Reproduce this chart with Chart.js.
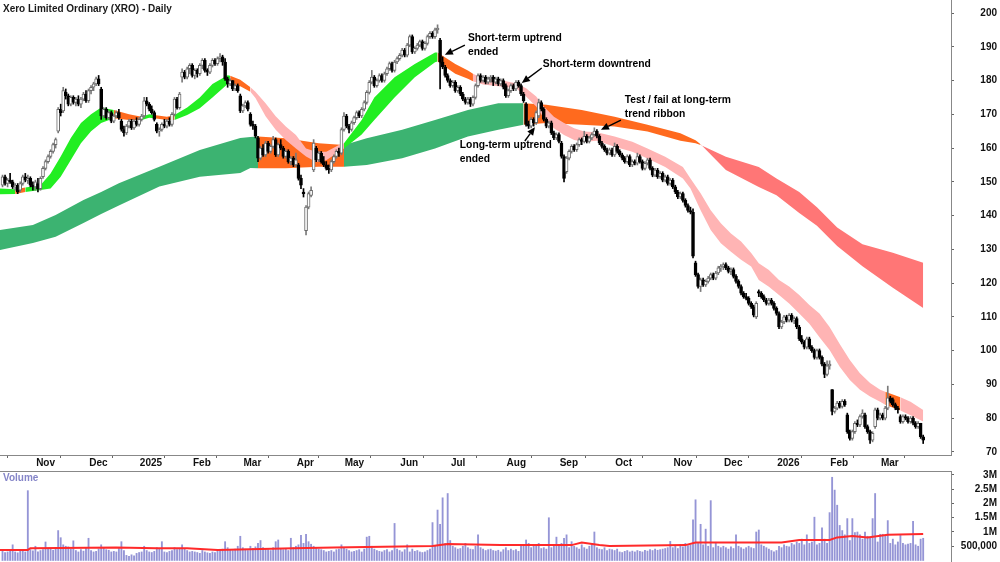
<!DOCTYPE html>
<html>
<head>
<meta charset="utf-8">
<script src="https://cdn.jsdelivr.net/npm/chart.js@4.4.1/dist/chart.umd.min.js"></script>
<style>
  html, body { margin: 0; padding: 0; background: #fff; }
  #wrap { position: relative; width: 1000px; height: 562px; overflow: hidden; }
  #price { position: absolute; left: 0; top: 0; }
  #volume { position: absolute; left: 0; top: 470px; }
</style>
</head>
<body>
<div id="wrap">
  <canvas id="price" width="1000" height="470"></canvas>
  <canvas id="volume" width="1000" height="92"></canvas>
</div>
<script>
// daily candles, one array per month: [open, high, low, close]
const oct24 = [[149,152,148.5,151.5],[151.5,152,149,149.5],[149.5,151,148.5,150.5],[150.5,152.5,149.5,150],[150,150.5,148,148.5],[148.5,149.5,147.5,149],[149,149.5,146.5,147],[147.5,150,147,149.5],[149.5,152,149,151.5],[151.5,152.5,150,150.5],[150.5,152,149.5,151],[151,151.5,148.5,149],[149,150,147.5,148.5]];
const nov24 = [[148.5,150.5,147.5,150],[149.5,151,147,148],[148,151.5,147.5,151],[151.5,154.5,151,154],[154,156.5,153.5,156],[156,158,155.5,157.5],[157.5,159.5,157,159],[159,161.5,158.5,161],[161,163,160,162.5],[165,172,164.5,171.5],[171.5,173,169.5,170.5],[171,178,170.5,177],[176.5,177.5,174.5,175.5],[175.5,176,172.5,173],[173,175.5,172.5,175],[175,175.5,173,173.5],[173.5,175,172.5,174.5],[174.5,175.5,172.5,173],[173,175,172,174.5],[174.5,176.5,174,176],[176,177,173.5,174]];
const dec24 = [[174,177.5,173.5,177],[177,178.5,176,178],[178,179.5,177,179],[179,181,178.5,180.5],[180.5,181.5,178.5,179],[177.5,178,168.5,169.5],[169.5,172,169,171.5],[171.5,172,168.5,169],[169,171,168.5,170.5],[170.5,171,167.5,168],[168,170,167.5,169.5],[169.5,171,169,170.5],[170.5,171.5,168.5,169],[168,168.5,165,165.5],[165.5,166.5,163.5,164.5],[164.5,167,164,166.5],[166.5,168.5,166,168],[168,168.5,165.5,166],[166,168.5,165.5,168],[168,169,166.5,167]];
const jan25 = [[167,169,166.5,168.5],[168.5,170,168,169.5],[169.5,175,169,174],[174,175,172.5,173],[173,173.5,171,171.5],[171.5,172.5,170,170.5],[170.5,171,168,168.5],[167,167.5,164.5,165],[165,166,163.5,165.5],[165.5,167.5,165,167],[167,168.5,166,166.5],[166.5,168.5,166,168],[168,169,166.5,167],[167,170.5,166.5,170],[170,175,169.5,174.5],[174.5,175,171.5,172],[172,176.5,171.5,176],[181,183.5,179.5,182.5],[182.5,183,180.5,181],[181,184,180.5,183.5],[183.5,185,182,184.5]];
const feb25 = [[184.5,185,181,181.5],[181.5,183.5,180.5,183],[183,183.5,181,182],[182,185,181.5,184.5],[184.5,186.5,183.5,186],[186,186.5,182.5,183],[183,183.5,181.5,182.5],[182.5,185,182,184.5],[184.5,186.5,184,186],[186,186.5,184.5,185],[185,187,184.5,186.5],[186.5,188,185.5,187],[187,187.5,184.5,185.5],[185.5,186.5,180,180.5],[180.5,181,178,179],[179,180.5,178.5,180],[180,180,177,177.5],[177.5,179,177,178.5],[178.5,179,176.5,177],[175.5,176,170.5,171]];
const mar25 = [[171,173,170.5,172.5],[172.5,174,172,173.5],[173.5,174,171,171.5],[170,170.5,166.5,167],[167,168,165.5,166.5],[166.5,167,163,163.5],[163,163.5,156,157],[157,160.5,156.5,160],[160,161,157.5,158],[158,162,157.5,161.5],[161.5,162,158.5,159],[159,161,158.5,160.5],[160.5,163.5,160,162.5],[162.5,163,157.5,158],[158,161.5,157.5,161],[161,162.5,159.5,160],[160,160.5,157,157.5],[157.5,159.5,157,159],[159,159.5,155.5,156],[156,157.5,155,157],[157,157.5,154.5,155]];
const apr25 = [[155,158.5,154.5,156.5],[155,155.5,150.5,151],[151,152,148,149],[147,148,145.5,146.5],[135.5,143,134.3,142.5],[142.5,147,142,146.5],[146,148.5,145.5,147.5],[153.5,162.5,153,161.5],[160,160.5,156,156.5],[156.5,159,156,158.5],[158.5,159,155.5,156],[156,157.5,154.5,155],[155,156,153.5,154],[154,155,152.5,153.5],[153.5,156.5,153,156],[156,158,155.5,157.5],[157.5,159.5,157,159],[159,160,157.5,158.5],[158.5,166,158,165.5]];
const may25 = [[165.5,170.5,165,169.5],[169.5,170,166,166.5],[166.5,167,164.5,165.5],[165.5,168,165,167.5],[167.5,169.5,167,169],[169,171,168.5,170.5],[170.5,171,169,169.5],[169.5,172,169,171.5],[171.5,174,171,173.5],[173.5,177,173,176.5],[176.5,180,176,179.5],[179.5,183,179,181],[181,181.5,178,178.5],[178.5,180.5,178,180],[180,182,179.5,181.5],[181.5,182,179.5,180],[180,182.5,179.5,182],[182,184,181.5,183.5],[183.5,185.5,183,185],[185,185.5,182.5,183],[183,186,182.5,185.5],[185.5,187,185,186.5]];
const jun25 = [[186.5,188,186,187.5],[187.5,189.5,187,189],[189,189.5,187,187.5],[187.5,191,187,190.5],[190.5,193.5,190,193],[193,193.5,188,188.5],[188.5,190,188,189.5],[189.5,191,189,190.5],[190.5,192,190,191.5],[191.5,192,189,189.5],[189.5,191.5,189,191],[191,193.5,190.5,193],[193,194.5,192.5,194],[194,194.5,192.5,193],[193,195.5,192.5,195],[195,196.5,194,195.5],[192,192.5,177.5,185.5],[185.5,187,183.5,184],[184,184.5,181,181.5],[181.5,182,179.5,180]];
const jul25 = [[180,180.5,178,178.5],[178.5,180,178,179.5],[179.5,180,176.5,177],[177,178.5,176.5,178],[178,178.5,175.5,176],[176,176.5,174,174.5],[174.5,175,173,173.5],[173.5,175,173,174.5],[174.5,175,172.3,173],[173,175.5,172.5,175],[175,179,174.5,178.5],[178.5,182,178,181.5],[181.5,182,179.5,180],[180,181.5,179.5,181],[181,181.5,179,179.5],[179.5,181,179,180.5],[180.5,181.5,179.5,181],[181,181.5,178.5,179.5],[179.5,181,179,180.5],[180.5,181,178.5,179],[179,180.5,178.5,180],[180,180.5,177.5,178]];
const aug25 = [[178.5,179,175,175.5],[175.5,177.5,175,177],[177,179,176.5,178.5],[178.5,179,177,177.5],[177.5,180,177,179.5],[179.5,180,178,178.5],[178.5,179,175.5,176],[176,176.5,173.5,174],[173,173.5,166.5,167],[167,168,165.8,166.5],[166.5,169,166,168.5],[168.5,169,166.5,167.5],[167.5,171,167,170.5],[169.5,174.5,169,173.5],[173.5,174,171,171.5],[171.5,172,168,168.5],[168.5,169,166,166.5],[166.5,168,166,167.5],[167.5,168,164,164.5],[164.5,165,162.5,163],[163,164.5,162.5,164]];
const sep25 = [[164,164.5,161.5,162],[161.5,162,157,157.5],[157.5,158,150,151],[153,157.5,152.5,157],[157,159.5,156.5,159],[159,161,158.5,160.5],[160.5,161,159,159.5],[159.5,161.5,159,161],[161,163,160.5,162.5],[162.5,163,161,162],[162,165,161.5,163.5],[163.5,164,161.5,162],[162,163.5,161.5,163],[163,164.5,162.5,164],[164,166,163.5,165],[165,165.5,163,163.5],[163.5,164,161,161.5],[161.5,162,160,160.5],[160.5,161,159,159.5],[159.5,160,158,158.5],[158.5,160,158,159.5],[159.5,160,157.5,158]];
const oct25 = [[158,161.5,157.5,160.5],[160.5,161,158.5,159],[159,159.5,157.5,158],[158,158.5,156.5,157],[157,157.5,155.5,156],[156,158,155.5,157.5],[157.5,158,154.5,155],[155,156.5,154.5,156],[156,156.5,155,155.5],[155.5,158.5,155,157.5],[157.5,158,155.5,156],[156,156.5,153.5,154],[154,156,153.5,155.5],[155.5,157,155,156.5],[156.5,157,153.5,154],[154,154.5,151.5,152],[152,154,151.5,153.5],[153.5,154,151,151.5],[151.5,153,151,152.5],[152.5,153,150,150.5],[150.5,152,150,151.5],[151.5,152,149,149.5],[149.5,151,149,150.5]];
const nov25 = [[150.5,151,148,148.5],[148.5,149,146.5,147],[147,147.5,145,145.5],[145.5,147,145,146.5],[146.5,147,144,144.5],[144.5,145,142.5,143],[143,143.5,141,141.5],[141.5,142.5,140.5,141],[141,142,127.5,128],[126,126.5,122,122.5],[122.5,123,118.5,119],[119,121.5,117.5,121],[121,121.5,119,119.5],[119.5,121,119,120.5],[120.5,122,120,121.5],[121.5,123,121,122.5],[122.5,123,121,121.5],[121.5,123.5,121,123],[123,125,122.5,124.5],[124.5,125.5,123.5,125]];
const dec25 = [[125,126,124,125.5],[125.5,126,124,124.5],[124.5,125,123,123.5],[123.5,124.5,122.5,124],[124,124.5,121.5,122],[122,122.5,120,120.5],[120.5,121,118.5,119],[119,119.5,116.5,117],[117,117.5,115.5,116],[116,117,115,115.5],[115.5,116,113.5,114],[114,114.5,112.5,113],[113,113.5,110,110.5],[110,114.5,109.5,114],[117.5,118,116,117],[117,117.5,115.5,116],[116,116.5,114.5,115],[115,115.5,113.5,114],[114,115.5,113.5,115],[115,115.5,113.5,114],[114,114.5,112,112.5]];
const jan26 = [[112.5,113,110.5,111],[111,111.5,106.5,107],[107,109,106.5,108.5],[108.5,110.5,108,110],[110,110.5,108.5,109],[109,111,108.5,110.5],[110.5,111,108.5,109],[109,110,108,109.5],[109.5,110,106.5,107],[107,107.5,103,103.5],[103.5,104.5,102,102.5],[102.5,103,100.5,101],[101,104,100.5,103.5],[103.5,104,100.5,101],[101,101.5,99.5,100],[100,100.5,97.5,98],[98,100.5,97.5,100],[100,100.5,97.5,98],[98,98.5,95.5,96],[96,96.5,92,93],[93,97,92.5,95.5]];
const feb26 = [[95.5,97,94.5,96],[88.5,88.5,81,82],[82,83.5,81.5,83],[83,85,82.5,84.5],[84.5,85,83,83.5],[83.5,85.5,83,85],[85,85.5,83.5,84],[81,81.5,75.5,76],[76,76.5,73.5,74],[74,76.5,73.5,76],[76,79,75.5,78.5],[78.5,79.5,77.5,78],[78,81,77.5,80.5],[80.5,82.5,80,81.5],[81,81.5,77,77.5],[77.5,78,75.5,76],[76,76.5,72.5,73.5],[73.5,76,73,75.5],[77.5,83,77,82.5],[82.5,83,79.5,80]];
const mar26 = [[80,81.5,79.5,81],[81,81.5,79.5,80],[80,83.5,79.5,83],[83,89.5,82.5,86],[86,86.5,84.5,85],[85.5,86,83.5,84],[84,84.5,82.5,83],[83,83.5,81.5,82.5],[80.5,81,78.5,79],[79,81,78.5,80.5],[80.5,81,79.5,80],[80,80.5,78.5,79],[79,80.5,78.5,80],[80,80.5,78,78.5],[78.5,79,77,77.5],[77.5,79,77,78.5],[78.5,78.5,74,74.5],[74.5,75,72.5,73.5]];

// daily volume in millions, per month
const vOct24 = [0.32,0.28,0.3,0.35,0.55,0.3,0.27,0.33,0.36,0.3,2.45,0.38,0.34];
const vNov24 = [0.5,0.3,0.35,0.38,0.65,0.4,0.42,0.36,0.45,1.05,0.8,0.55,0.5,0.48,0.4,0.69,0.35,0.3,0.38,0.33,0.45];
const vDec24 = [0.78,0.35,0.3,0.32,0.4,0.55,0.45,0.38,0.36,0.3,0.32,0.3,0.42,0.66,0.35,0.18,0.15,0.2,0.16,0.25];
const vJan25 = [0.28,0.3,0.5,0.35,0.3,0.28,0.32,0.45,0.4,0.66,0.3,0.28,0.32,0.35,0.45,0.38,0.4,0.55,0.42,0.35,0.3];
const vFeb25 = [0.32,0.3,0.28,0.25,0.35,0.3,0.27,0.25,0.3,0.28,0.32,0.35,0.4,0.66,0.45,0.38,0.35,0.4,0.5,0.85];
const vMar25 = [0.45,0.4,0.35,0.5,0.42,0.48,0.6,0.7,0.45,0.4,0.38,0.35,0.45,0.66,0.72,0.4,0.38,0.42,0.35,0.78,0.45];
const vApr25 = [0.5,0.55,0.88,0.6,0.92,0.66,0.57,0.5,0.45,0.4,0.38,0.35,0.3,0.32,0.35,0.3,0.38,0.4,0.55];
const vMay25 = [0.45,0.4,0.35,0.3,0.32,0.35,0.38,0.3,0.4,0.82,0.85,0.5,0.4,0.35,0.32,0.3,0.35,0.38,0.3,0.35,1.3,0.4];
const vJun25 = [0.35,0.3,0.38,0.55,0.3,0.4,0.32,0.35,0.3,0.28,0.3,0.35,0.4,1.33,0.5,1.77,1.27,2.2,0.6,2.35];
const vJul25 = [0.7,0.5,0.45,0.4,0.42,0.5,0.6,0.45,0.4,0.38,0.5,0.9,0.45,0.4,0.35,0.38,0.4,0.35,0.33,0.36,0.3,0.38];
const vAug25 = [0.45,0.35,0.4,0.35,0.38,0.32,0.5,0.55,0.72,0.6,0.45,0.55,0.5,0.6,0.42,0.45,0.4,1.5,0.45,0.5,0.82];
const vSep25 = [0.5,0.6,0.78,0.9,0.45,0.66,0.5,0.45,0.4,0.55,0.45,0.4,0.5,0.58,1.0,0.45,0.4,0.38,0.45,0.35,0.4,0.38];
const vOct25 = [0.35,0.4,0.3,0.28,0.32,0.35,0.3,0.33,0.3,0.35,0.32,0.3,0.36,0.33,0.38,0.35,0.4,0.36,0.38,0.4,0.42,0.45,0.67];
const vNov25 = [0.45,0.5,0.42,0.55,0.48,0.6,0.52,0.55,1.43,2.13,0.6,1.27,0.55,1.1,0.5,2.1,0.45,0.64,0.5,0.45];
const vDec25 = [0.5,0.45,0.4,0.48,0.42,0.9,0.5,0.45,0.4,0.45,0.5,0.45,0.42,1.0,1.07,0.55,0.5,0.45,0.4,0.35,0.3];
const vJan26 = [0.35,0.5,0.45,0.55,0.5,0.48,0.6,0.55,0.65,0.6,0.75,0.55,0.9,0.6,0.65,1.52,0.55,0.6,1.15,0.75,0.6];
const vFeb26 = [1.68,2.92,2.47,1.94,1.23,1.05,0.9,1.47,0.7,1.47,0.98,1.0,0.9,0.75,1.0,0.85,0.8,1.47,2.35,0.65];
const vMar26 = [0.92,0.92,0.85,1.4,0.6,0.75,0.55,0.65,0.88,0.6,0.55,0.58,0.6,1.37,0.55,0.5,0.75,0.78];

// volume moving average, read at turning points (bar index, millions)
const volMaIdx = [-1,10,11,45,61,73,85,115,131,170,176,197,225,229,236,240,270,274,308,315,327,330,336,342,350,364];
const volMaVal = [0.37,0.37,0.43,0.46,0.43,0.43,0.37,0.43,0.46,0.51,0.58,0.54,0.54,0.63,0.54,0.51,0.54,0.63,0.63,0.72,0.72,0.81,0.86,0.81,0.9,0.93];

// short-term trend ribbon (bar index, two averages, state)
const shortIdx  = [-1,5,9,15,19,23,27,31,35,39,44,50,55,58,60,65,68,73,78,83,89,90,94,98,100,104,108,112,116,120,124,128,133,135,142,147,155,163,171,172,179,184,186,190,196,203,207,211,214,218,222,226,230,235,242,249,255,262,269,272,276,280,284,288,292,296,299,303,307,311,315,319,323,327,331,335,339,343,347,349,355,359,364];
const shortFast = [148,147.8,148.3,149,152.5,157.5,163,167.4,170,172,171.3,170,169.3,170,169.8,169.3,169.8,172,175,179,181.6,181.4,180.2,178,176.7,173.3,169.4,166.4,163.9,159.9,158.9,158.9,160.9,161.4,168.3,175,181,184.9,188.3,188.3,184.9,183,182,180.7,180.2,179.2,177.7,175.3,172.3,169.3,167.4,165.9,164.9,164.7,163.4,161.9,159.9,157.4,154.4,151,146.6,141.6,137.7,134.7,132.3,128.9,125.9,123.9,120.9,119,116.5,113.5,111,107,102,97.2,93.3,90.4,88.4,87.8,86.2,84.9,82.4];
const shortSlow = [146.3,146.4,147,147.6,148,151.5,156.5,161.4,165,167.4,168.8,168.3,168.3,169,168.8,168.3,168.3,169.8,171.8,175,179,178.8,178.3,176.7,174.8,169.4,165.4,162.4,159.9,157.5,155.9,156.4,158.9,159.9,164,168.3,175,181,185.4,185.6,182,180.5,179.8,178.8,178.3,177.7,175.3,172.3,168.8,165.9,163.9,162.4,161.9,162.2,160.4,158.9,156.9,154.4,151,148,141.6,135.7,131.8,129.3,126.9,124.9,120.9,118.9,116.5,114,111,108,104,100.2,95.2,91.3,88.4,86.4,84.9,84,82.3,80.9,79];
const shortTrend = ['up','flat','up','up','up','up','up','up','up','up','flat','flat','up','up','flat','flat','up','up','up','up','up','flat','flat','down','down','down','down','down','down','down','down','down','down','up','up','up','up','up','up','flat','flat','flat','down','down','down','down','down','down','down','down','down','down','down','down','down','down','down','down','down','down','down','down','down','down','down','down','down','down','down','down','down','down','down','down','down','down','down','down','down','flat','down','down','down'];

// long-term trend ribbon
const longIdx  = [-1,12,21,32,39,46,62,78,94,98,101,112,125,135,144,158,171,184,196,206,215,229,242,255,268,274,276,286,299,306,315,322,330,340,352,364];
const longFast = [135.7,137.2,140.2,144.6,147,149.6,154.5,159.4,163,163.3,163.4,162.9,161.4,160.9,162.9,165.4,168.3,171.3,173.3,173.3,172.8,171.3,169.3,166.9,164.4,162.3,161.1,153.5,148.5,146,140.8,137,131,125,118.6,112.6];
const longSlow = [129.8,131.9,133.7,137.8,140.5,143,148.6,151.5,152.6,154.1,154,154,154.5,154.5,155,157,159.9,163.4,165.4,166.9,167.4,166.9,166.4,164.9,162.2,161.4,160.9,157.4,154.4,151,147,142.5,136.5,131.5,129,126];
const longTrend = ['up','up','up','up','up','up','up','up','up','up','flat','flat','flat','up','up','up','up','up','up','flat','flat','flat','flat','flat','flat','flat','down','down','down','down','down','down','down','down','down','down'];

const monthLabels = ['', 'Nov', 'Dec', '2025', 'Feb', 'Mar', 'Apr', 'May', 'Jun', 'Jul', 'Aug', 'Sep', 'Oct', 'Nov', 'Dec', '2026', 'Feb', 'Mar'];
const priceTicks = [70, 80, 90, 100, 110, 120, 130, 140, 150, 160, 170, 180, 190, 200];
const volTicks = [0.5, 1, 1.5, 2, 2.5, 3];
const volTickLabels = ['500,000', '1M', '1.5M', '2M', '2.5M', '3M'];

const notes = [
  { lines: ['Short-term uptrend', 'ended'], at: [184.0, 192.6], from: [182.8, 190.5], to: [174.9, 187.6] },
  { lines: ['Short-term downtrend'], at: [213.6, 184.9], from: [213.2, 183.7], to: [205.3, 179.3] },
  { lines: ['Test / fail at long-term', 'trend ribbon'], at: [246.0, 174.2], from: [244.5, 168.3], to: [236.6, 165.4] },
  { lines: ['Long-term uptrend', 'ended'], at: [180.8, 160.9], from: [206.5, 162.1], to: [210.5, 166.2] },
];

const FONT = '"Liberation Sans", Arial, sans-serif';

const months = [oct24, nov24, dec24, jan25, feb25, mar25, apr25, may25, jun25, jul25, aug25, sep25, oct25, nov25, dec25, jan26, feb26, mar26];
const volumes = [vOct24, vNov24, vDec24, vJan25, vFeb25, vMar25, vApr25, vMay25, vJun25, vJul25, vAug25, vSep25, vOct25, vNov25, vDec25, vJan26, vFeb26, vMar26].flat();
const candles = months.flat();

const monthStarts = [];
let n = 0;
months.forEach((m, k) => { if (k > 0) monthStarts.push(n); n += m.length; });

const isUp = i => candles[i][3] >= candles[i][0];

const shortColors = { up: '#22ee22', flat: '#ff6a1e', down: '#ffb4b4' };
const longColors = { up: '#3cb371', flat: '#ff6a1e', down: '#ff7676' };

const ribbon = (idx, a, b, states, palette, order) => [
  {
    type: 'line',
    data: idx.map((x, k) => ({ x, y: a[k] })),
    borderColor: 'rgba(0,0,0,0)',
    borderWidth: 0,
    pointRadius: 0,
    fill: '+1',
    order,
    backgroundColor: palette[states[0]],
    segment: { backgroundColor: ctx => palette[states[ctx.p0DataIndex]] },
  },
  {
    type: 'line',
    data: idx.map((x, k) => ({ x, y: b[k] })),
    borderColor: 'rgba(0,0,0,0)',
    borderWidth: 0,
    pointRadius: 0,
    fill: false,
    order: order + 1,
  },
];

const drawArrow = (ctx, x1, y1, x2, y2) => {
  const ang = Math.atan2(y2 - y1, x2 - x1);
  const len = 8, half = 3.6;
  const bx = x2 - len * Math.cos(ang), by = y2 - len * Math.sin(ang);
  ctx.beginPath();
  ctx.moveTo(x1, y1);
  ctx.lineTo(bx, by);
  ctx.lineWidth = 1.4;
  ctx.strokeStyle = '#000';
  ctx.stroke();
  ctx.beginPath();
  ctx.moveTo(x2, y2);
  ctx.lineTo(bx + half * Math.sin(ang), by - half * Math.cos(ang));
  ctx.lineTo(bx - half * Math.sin(ang), by + half * Math.cos(ang));
  ctx.closePath();
  ctx.fillStyle = '#000';
  ctx.fill();
};

const priceText = {
  id: 'priceText',
  afterDraw(chart) {
    const { ctx, scales: { x, y } } = chart;
    ctx.save();
    ctx.textBaseline = 'middle';
    ctx.textAlign = 'left';
    ctx.fillStyle = '#1a1a1a';
    ctx.font = 'bold 10px ' + FONT;
    ctx.fillText('Xero Limited Ordinary (XRO) - Daily', 3, 9);
    notes.forEach(nt => {
      ctx.font = 'bold 10.3px ' + FONT;
      ctx.fillStyle = '#000';
      const tx = x.getPixelForValue(nt.at[0]);
      const ty = y.getPixelForValue(nt.at[1]);
      nt.lines.forEach((s, k) => ctx.fillText(s, tx, ty + k * 14.5));
      drawArrow(ctx, x.getPixelForValue(nt.from[0]), y.getPixelForValue(nt.from[1]),
        x.getPixelForValue(nt.to[0]), y.getPixelForValue(nt.to[1]));
    });
    ctx.restore();
  }
};

const axisFont = { family: FONT, size: 10, weight: 'bold' };

// right-hand axis: fixed width, no extra vertical padding from the label offset
const fitRightAxis = s => { s.width = 46; s.paddingTop = 0; s.paddingBottom = 0; };

new Chart(document.getElementById('price'), {
  type: 'bar',
  data: {
    datasets: [
      {
        type: 'bar',
        data: candles.map((c, i) => ({ x: i, y: [c[0], c[3]] })),
        order: 0,
        grouped: false,
        barThickness: 3,
        borderWidth: 1,
        borderSkipped: false,
        backgroundColor: ctx => isUp(ctx.dataIndex) ? '#ffffff' : '#000000',
        borderColor: ctx => isUp(ctx.dataIndex) ? '#6a6a6a' : '#000000',
      },
      {
        type: 'bar',
        data: candles.map((c, i) => ({ x: i, y: [c[2], c[1]] })),
        order: 1,
        grouped: false,
        barThickness: 1,
        borderWidth: 0,
        backgroundColor: ctx => isUp(ctx.dataIndex) ? '#7a7a7a' : '#000000',
      },
      ...ribbon(shortIdx, shortFast, shortSlow, shortTrend, shortColors, 2),
      ...ribbon(longIdx, longFast, longSlow, longTrend, longColors, 4),
    ]
  },
  options: {
    responsive: false,
    animation: false,
    layout: { padding: { left: 0, right: 3, top: 0, bottom: 0 } },
    plugins: { legend: { display: false }, tooltip: { enabled: false } },
    scales: {
      x: {
        type: 'linear',
        min: -1,
        max: 375,
        offset: false,
        afterFit: s => { s.height = 15; s.paddingLeft = 0; s.paddingRight = 0; },
        afterBuildTicks: s => { s.ticks = monthStarts.map(v => ({ value: v - 0.5 })); },
        grid: { drawOnChartArea: false, drawTicks: true, tickLength: 3, color: '#666' },
        border: { display: true, color: '#888' },
        ticks: {
          autoSkip: false, maxRotation: 0, align: 'start', labelOffset: 2, padding: -1,
          color: '#111', font: axisFont,
          callback: (v, k) => monthLabels[k + 1],
        },
      },
      y: {
        type: 'linear',
        position: 'right',
        min: 69.1,
        max: 203.85,
        afterFit: fitRightAxis,
        afterBuildTicks: s => { s.ticks = priceTicks.map(v => ({ value: v })); },
        grid: { drawOnChartArea: false, tickLength: 3, color: '#666' },
        border: { display: true, color: '#888' },
        ticks: { crossAlign: 'far', padding: 26, color: '#111', font: axisFont, callback: v => String(v) },
      },
    },
  },
  plugins: [priceText],
});

const volText = {
  id: 'volText',
  afterDraw(chart) {
    const { ctx } = chart;
    ctx.save();
    ctx.font = 'bold 10px ' + FONT;
    ctx.fillStyle = '#8585c8';
    ctx.textBaseline = 'middle';
    ctx.fillText('Volume', 3, 8);
    ctx.restore();
  }
};

new Chart(document.getElementById('volume'), {
  type: 'bar',
  data: {
    datasets: [
      {
        type: 'line',
        data: volMaIdx.map((x, k) => ({ x, y: volMaVal[k] })),
        borderColor: '#ff2a2a',
        borderWidth: 2,
        pointRadius: 0,
        fill: false,
        order: 0,
      },
      {
        type: 'bar',
        data: volumes.map((v, i) => ({ x: i, y: v })),
        backgroundColor: '#9595d6',
        barThickness: 1.2,
        grouped: false,
        order: 1,
      },
    ]
  },
  options: {
    responsive: false,
    animation: false,
    layout: { padding: { left: 0, right: 3, top: 0, bottom: 0 } },
    plugins: { legend: { display: false }, tooltip: { enabled: false } },
    scales: {
      x: {
        type: 'linear',
        position: 'top',
        min: -1,
        max: 375,
        offset: false,
        afterFit: s => { s.height = 1; s.paddingLeft = 0; s.paddingRight = 0; },
        ticks: { display: false },
        grid: { drawOnChartArea: false, drawTicks: false },
        border: { display: true, color: '#888' },
      },
      y: {
        type: 'linear',
        position: 'right',
        min: -0.053,
        max: 3.14,
        afterFit: fitRightAxis,
        afterBuildTicks: s => { s.ticks = volTicks.map(v => ({ value: v })); },
        grid: { drawOnChartArea: false, tickLength: 3, color: '#666' },
        border: { display: true, color: '#888' },
        ticks: { crossAlign: 'far', padding: 7, color: '#111', font: axisFont, callback: (v, k) => volTickLabels[k] },
      },
    },
  },
  plugins: [volText],
});
</script>
</body>
</html>
